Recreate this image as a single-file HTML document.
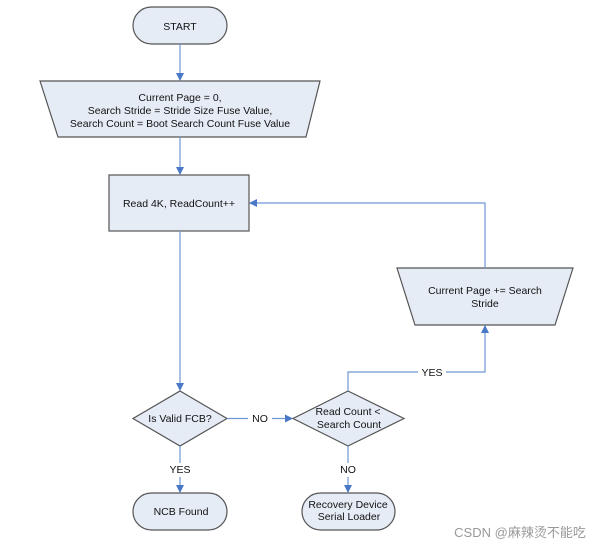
<!DOCTYPE html>
<html><head><meta charset="utf-8"><style>
html,body{margin:0;padding:0;background:#fff;width:613px;height:551px;overflow:hidden}
svg text{font-family:"Liberation Sans",Arial,sans-serif;font-size:10.5px;fill:#111;text-anchor:middle}
</style></head><body>
<svg width="613" height="551" viewBox="0 0 613 551" xmlns="http://www.w3.org/2000/svg">
<defs><marker id="a" markerWidth="8" markerHeight="8" refX="7" refY="4" orient="auto" markerUnits="userSpaceOnUse"><path d="M0,0 L8,4 L0,8 z" fill="#4a78c4"/></marker></defs>
<g fill="#e6ecf6" stroke="#555" stroke-width="1.2">
<rect x="133" y="7" width="94" height="37" rx="18.5"/>
<polygon points="40,81 320,81 306,137 58,137"/>
<rect x="109" y="175" width="140" height="56"/>
<polygon points="397,268 573,268 555,325 415,325"/>
<polygon points="180,391 227,418.5 180,446 133,418.5"/>
<polygon points="348,391 404,418.5 348,446 293,418.5"/>
<rect x="133" y="493" width="94" height="37" rx="18.5"/>
<rect x="302" y="493" width="93" height="37" rx="18.5"/>
</g>
<g stroke="#6f97d6" stroke-width="1.2" fill="none">
<line x1="180" y1="44" x2="180" y2="80" marker-end="url(#a)"/>
<line x1="180" y1="137" x2="180" y2="174" marker-end="url(#a)"/>
<line x1="180" y1="231" x2="180" y2="390" marker-end="url(#a)"/>
<line x1="227" y1="418.5" x2="292" y2="418.5" marker-end="url(#a)"/>
<line x1="180" y1="446" x2="180" y2="492" marker-end="url(#a)"/>
<line x1="348" y1="446" x2="348" y2="492" marker-end="url(#a)"/>
<polyline points="348,391 348,372 485,372 485,326" marker-end="url(#a)"/>
<polyline points="485,268 485,203 250,203" marker-end="url(#a)"/>
</g>
<g fill="#fff">
<rect x="248" y="411" width="24" height="14"/>
<rect x="168" y="463" width="24" height="14"/>
<rect x="338" y="463" width="20" height="14"/>
<rect x="418" y="365" width="28" height="14"/>
</g>
<text x="180" y="30">START</text>
<text x="180" y="101">Current Page = 0,</text>
<text x="180" y="114">Search Stride = Stride Size Fuse Value,</text>
<text x="180" y="127">Search Count = Boot Search Count Fuse Value</text>
<text x="179" y="207">Read 4K, ReadCount++</text>
<text x="485" y="294">Current Page += Search</text>
<text x="485" y="307">Stride</text>
<text x="180" y="422">Is Valid FCB?</text>
<text x="348" y="415">Read Count &lt;</text>
<text x="349" y="428">Search Count</text>
<text x="260" y="422">NO</text>
<text x="432" y="376">YES</text>
<text x="180" y="473">YES</text>
<text x="348" y="473">NO</text>
<text x="181" y="515">NCB Found</text>
<text x="348" y="508">Recovery Device</text>
<text x="349" y="520">Serial Loader</text>
<text x="520" y="537" style="font-family:'Liberation Sans','Noto Sans CJK SC',sans-serif;font-size:13px;fill:#999">CSDN @麻辣烫不能吃</text>
</svg>
</body></html>
